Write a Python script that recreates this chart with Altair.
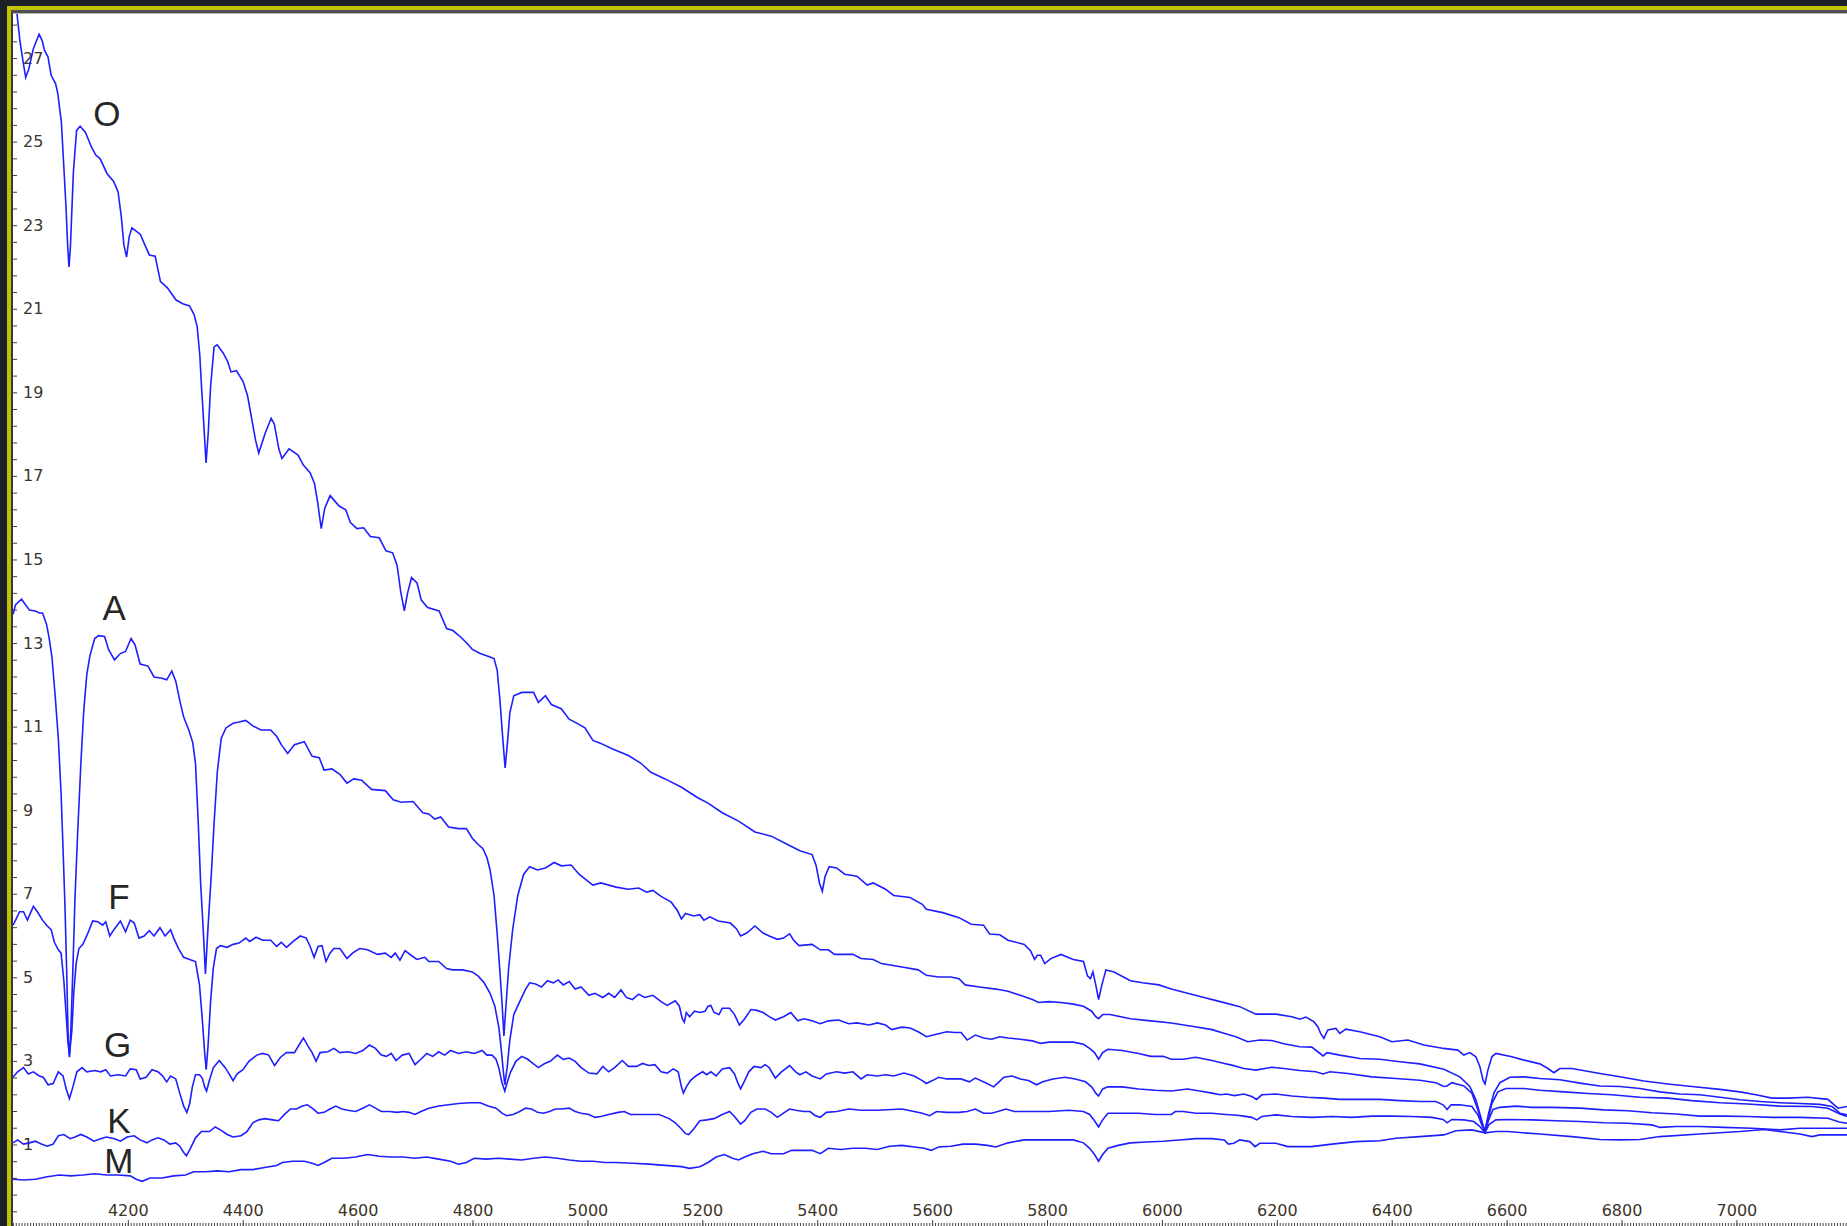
import altair as alt
import pandas as pd

# ---- spectra: wavelength (Angstrom) and relative flux for each spectral class ----
O_WL = [3999.3, 4006.0, 4011.3, 4016.7, 4021.4, 4026.8, 4034.6, 4044.7, 4050.1, 4054.0, 4060.2, 4065.7,
        4073.4, 4077.3, 4083.5, 4087.4, 4091.3, 4094.4, 4096.7, 4099.1, 4102.2, 4104.5, 4110.0, 4116.2,
        4125.5, 4135.6, 4143.4, 4151.1, 4162.8, 4174.5, 4182.2, 4187.7, 4192.3, 4197.0, 4201.6, 4206.3,
        4221.1, 4228.8, 4236.6, 4246.7, 4256.0, 4267.7, 4283.2, 4294.9, 4306.5, 4314.3, 4319.8, 4324.4,
        4327.5, 4331.4, 4335.3, 4339.2, 4343.1, 4349.3, 4354.7, 4364.8, 4372.6, 4378.8, 4388.2, 4399.8,
        4407.6, 4415.3, 4421.6, 4427.0, 4438.7, 4448.7, 4454.2, 4462.0, 4467.4, 4479.9, 4495.4, 4504.7,
        4516.4, 4524.1, 4529.5, 4535.8, 4542.0, 4551.3, 4566.9, 4578.5, 4586.3, 4597.9, 4609.6, 4621.3,
        4636.8, 4648.4, 4660.1, 4667.9, 4674.1, 4680.5, 4686.0, 4693.0, 4702.6, 4710.0, 4721.0, 4741.0,
        4754.0, 4765.0, 4779.0, 4791.9, 4798.8, 4812.5, 4829.7, 4836.6, 4842.1, 4846.9, 4851.8, 4855.9,
        4860.0, 4864.1, 4871.0, 4884.8, 4905.4, 4913.7, 4926.1, 4936.4, 4953.6, 4967.4, 4981.1, 4994.9,
        5008.7, 5022.4, 5042.0, 5070.4, 5091.7, 5109.5, 5134.4, 5162.8, 5191.2, 5209.0, 5233.8, 5262.3,
        5290.7, 5319.1, 5347.5, 5368.9, 5390.2, 5397.3, 5403.0, 5408.0, 5412.9, 5420.0, 5432.8, 5447.0,
        5468.3, 5486.1, 5496.7, 5518.0, 5532.2, 5560.7, 5582.0, 5589.1, 5617.5, 5646.0, 5667.2, 5688.6,
        5699.2, 5717.0, 5731.2, 5759.6, 5770.3, 5777.4, 5782.3, 5788.0, 5795.1, 5805.8, 5823.5, 5844.9,
        5862.6, 5869.7, 5874.7, 5879.0, 5884.0, 5888.9, 5894.6, 5901.7, 5915.9, 5944.3, 5965.6, 5994.0,
        6015.4, 6043.8, 6072.2, 6100.6, 6134.7, 6162.6, 6197.4, 6225.3, 6239.2, 6249.6, 6263.5, 6270.5,
        6275.4, 6281.0, 6287.9, 6301.9, 6308.8, 6319.3, 6343.6, 6378.4, 6399.3, 6427.2, 6455.1, 6489.9,
        6514.2, 6524.7, 6535.1, 6545.6, 6552.6, 6558.1, 6561.6, 6566.5, 6573.4, 6580.4, 6608.3, 6629.2,
        6657.0, 6671.0, 6681.4, 6691.8, 6712.7, 6761.5, 6796.3, 6838.1, 6879.9, 6921.6, 6970.4, 7005.2,
        7033.1, 7060.9, 7088.8, 7123.5, 7158.4, 7175.8, 7191.6]
O_FLUX = [28.8, 28.1, 27.43, 26.94, 26.55, 26.75, 27.23, 27.58, 27.43, 27.2, 27.04, 26.6,
          26.4, 26.16, 25.48, 24.5, 23.52, 22.54, 22.01, 22.45, 23.52, 24.3, 25.28, 25.38,
          25.23, 24.89, 24.69, 24.6, 24.25, 24.06, 23.81, 23.23, 22.54, 22.25, 22.74, 22.95,
          22.79, 22.54, 22.3, 22.27, 21.66, 21.52, 21.22, 21.13, 21.08, 20.88, 20.59, 19.91,
          19.13, 18.25, 17.32, 18.05, 19.13, 20.1, 20.15, 19.96, 19.76, 19.5, 19.53, 19.27,
          18.93, 18.34, 17.86, 17.56, 18.05, 18.39, 18.25, 17.66, 17.43, 17.66, 17.51, 17.27,
          17.09, 16.83, 16.39, 15.75, 16.24, 16.54, 16.29, 16.2, 15.9, 15.75, 15.77, 15.56,
          15.53, 15.22, 15.17, 14.87, 14.24, 13.78, 14.2, 14.58, 14.45, 14.04, 13.86, 13.78,
          13.36, 13.31, 13.15, 12.97, 12.86, 12.76, 12.68, 12.64, 12.36, 11.64, 10.73, 10.02,
          10.63, 11.34, 11.75, 11.83, 11.83, 11.59, 11.75, 11.54, 11.44, 11.19, 11.09, 10.98,
          10.68, 10.61, 10.48, 10.32, 10.14, 9.92, 9.76, 9.56, 9.31, 9.18, 8.95, 8.75,
          8.49, 8.39, 8.19, 8.04, 7.95, 7.68, 7.27, 7.07, 7.43, 7.66, 7.63, 7.48,
          7.43, 7.22, 7.27, 7.12, 6.97, 6.92, 6.76, 6.64, 6.56, 6.44, 6.28, 6.26,
          6.05, 6.03, 5.9, 5.8, 5.65, 5.44, 5.54, 5.54, 5.34, 5.46, 5.56, 5.44,
          5.39, 5.04, 4.98, 5.14, 4.83, 4.48, 4.83, 5.19, 5.14, 4.93, 4.88, 4.83,
          4.73, 4.63, 4.53, 4.43, 4.31, 4.13, 4.13, 4.07, 4.01, 4.06, 3.95, 3.83,
          3.67, 3.55, 3.75, 3.79, 3.67, 3.77, 3.71, 3.59, 3.47, 3.51, 3.39, 3.31,
          3.27, 3.15, 3.21, 3.11, 2.87, 2.55, 2.46, 2.79, 3.11, 3.19, 3.11, 3.03,
          2.94, 2.83, 2.73, 2.83, 2.83, 2.71, 2.63, 2.53, 2.46, 2.4, 2.33, 2.27,
          2.2, 2.12, 2.12, 2.14, 2.09, 1.88, 1.92]

A_WL = [3999.3, 4003.8, 4014.2, 4021.1, 4028.0, 4038.3, 4045.1, 4050.7, 4057.5, 4062.4, 4067.2, 4072.7,
        4078.2, 4083.0, 4086.4, 4089.9, 4093.3, 4095.4, 4097.5, 4100.2, 4103.6, 4107.1, 4111.9, 4117.4,
        4122.2, 4127.7, 4133.2, 4141.5, 4148.4, 4158.7, 4165.6, 4175.9, 4186.2, 4195.2, 4204.8, 4211.7,
        4220.6, 4234.4, 4244.7, 4258.5, 4266.8, 4275.7, 4282.6, 4289.5, 4296.4, 4305.3, 4312.2, 4317.0,
        4321.8, 4325.9, 4330.8, 4334.2, 4339.0, 4344.5, 4349.3, 4354.9, 4361.7, 4370.0, 4382.4, 4392.7,
        4404.4, 4416.8, 4430.6, 4447.8, 4458.1, 4466.3, 4477.4, 4489.1, 4506.3, 4520.0, 4532.4, 4540.7,
        4554.4, 4568.2, 4580.6, 4592.3, 4606.1, 4623.3, 4647.4, 4661.1, 4674.9, 4695.5, 4712.7, 4723.1,
        4733.4, 4743.8, 4757.5, 4774.7, 4788.4, 4798.8, 4809.1, 4817.3, 4824.2, 4829.7, 4836.6, 4842.1,
        4846.9, 4850.4, 4853.8, 4857.3, 4862.1, 4869.0, 4877.9, 4888.2, 4898.6, 4912.4, 4926.1, 4941.2,
        4953.6, 4970.8, 4984.5, 4994.9, 5008.7, 5022.4, 5049.1, 5070.4, 5088.2, 5102.4, 5113.1, 5127.3,
        5145.0, 5155.7, 5162.8, 5169.9, 5184.1, 5194.8, 5201.9, 5212.5, 5226.7, 5248.1, 5258.7, 5265.8,
        5276.5, 5290.7, 5304.9, 5315.5, 5329.8, 5340.4, 5351.1, 5358.2, 5367.4, 5390.2, 5404.4, 5418.6,
        5429.2, 5461.2, 5475.4, 5496.7, 5511.0, 5546.5, 5574.9, 5589.1, 5610.4, 5631.7, 5645.9, 5656.6,
        5681.4, 5709.9, 5731.2, 5752.5, 5773.8, 5784.5, 5802.2, 5823.5, 5844.9, 5862.6, 5876.8, 5884.0,
        5888.9, 5896.0, 5908.8, 5944.3, 5979.8, 6015.4, 6051.0, 6086.4, 6110.0, 6127.8, 6148.6, 6169.5,
        6190.4, 6211.3, 6239.2, 6260.1, 6270.5, 6279.6, 6286.5, 6308.8, 6343.6, 6378.4, 6413.3, 6448.1,
        6489.9, 6517.7, 6535.1, 6545.6, 6553.9, 6560.9, 6567.9, 6576.9, 6587.4, 6604.8, 6629.2, 6657.0,
        6691.8, 6726.6, 6761.5, 6796.3, 6831.1, 6865.9, 6900.7, 6935.5, 6970.4, 7005.2, 7040.0, 7074.8,
        7109.7, 7144.5, 7165.4, 7179.3, 7191.6]
A_FLUX = [13.7, 13.93, 14.06, 13.93, 13.8, 13.78, 13.73, 13.73, 13.47, 13.12, 12.66, 11.75,
          10.73, 9.41, 8.09, 6.66, 4.83, 3.51, 3.1, 3.82, 5.24, 6.87, 8.49, 10.12,
          11.34, 12.25, 12.71, 13.12, 13.19, 13.17, 12.86, 12.61, 12.76, 12.81, 13.12, 12.97,
          12.51, 12.46, 12.2, 12.17, 12.13, 12.34, 12.1, 11.64, 11.24, 10.93, 10.63, 10.12,
          8.7, 7.27, 6.05, 5.09, 6.26, 7.48, 8.7, 9.92, 10.73, 10.98, 11.09, 11.12,
          11.16, 11.03, 10.93, 10.93, 10.78, 10.58, 10.37, 10.58, 10.65, 10.3, 10.27, 9.97,
          10.0, 9.87, 9.66, 9.76, 9.73, 9.51, 9.48, 9.26, 9.2, 9.22, 8.95, 8.92,
          8.8, 8.85, 8.61, 8.57, 8.57, 8.34, 8.19, 8.09, 7.88, 7.58, 6.97, 6.05,
          5.14, 4.43, 3.61, 4.32, 5.24, 6.15, 6.97, 7.48, 7.66, 7.58, 7.63, 7.76,
          7.68, 7.7, 7.48, 7.37, 7.22, 7.27, 7.17, 7.12, 7.15, 7.05, 7.09, 6.95,
          6.81, 6.61, 6.41, 6.54, 6.48, 6.51, 6.38, 6.46, 6.36, 6.31, 6.17, 6.0,
          6.07, 6.24, 6.07, 6.0, 5.92, 5.95, 6.05, 5.9, 5.77, 5.8, 5.67, 5.67,
          5.56, 5.56, 5.46, 5.44, 5.34, 5.26, 5.19, 5.06, 5.02, 5.02, 4.98, 4.83,
          4.78, 4.73, 4.68, 4.58, 4.48, 4.41, 4.43, 4.41, 4.37, 4.32, 4.2, 4.07,
          4.02, 4.12, 4.12, 4.02, 3.97, 3.92, 3.84, 3.76, 3.66, 3.59, 3.47, 3.51,
          3.5, 3.42, 3.35, 3.34, 3.23, 3.13, 3.21, 3.15, 3.07, 3.05, 2.99, 2.94,
          2.81, 2.63, 2.4, 2.08, 1.68, 1.32, 1.76, 2.24, 2.49, 2.62, 2.63, 2.59,
          2.56, 2.48, 2.41, 2.4, 2.35, 2.27, 2.22, 2.2, 2.14, 2.08, 2.04, 2.01,
          1.99, 1.97, 1.92, 1.76, 1.72]

F_WL = [3999.3, 4003.8, 4010.7, 4017.6, 4024.4, 4030.0, 4034.8, 4041.7, 4050.7, 4058.9, 4065.8, 4071.3,
        4078.2, 4083.0, 4087.8, 4091.3, 4094.7, 4097.5, 4101.6, 4105.0, 4109.2, 4114.0, 4120.9, 4129.1,
        4138.1, 4147.0, 4155.3, 4160.8, 4167.7, 4175.9, 4186.2, 4195.2, 4203.4, 4210.3, 4218.6, 4227.5,
        4236.5, 4244.7, 4255.1, 4264.0, 4273.6, 4279.1, 4287.4, 4296.4, 4306.7, 4317.0, 4323.9, 4328.7,
        4332.9, 4335.6, 4339.0, 4343.2, 4348.0, 4353.5, 4360.4, 4372.1, 4382.4, 4392.7, 4404.4, 4411.3,
        4422.3, 4434.0, 4447.8, 4458.1, 4466.3, 4475.3, 4487.0, 4499.4, 4509.7, 4516.5, 4523.4, 4530.3,
        4537.2, 4544.1, 4551.0, 4557.9, 4568.2, 4580.6, 4590.2, 4602.6, 4616.3, 4633.6, 4647.4, 4657.7,
        4664.6, 4672.8, 4681.8, 4692.1, 4702.4, 4716.2, 4723.1, 4740.3, 4754.0, 4764.4, 4781.6, 4798.8,
        4809.1, 4819.4, 4829.7, 4838.0, 4844.9, 4849.0, 4852.5, 4855.3, 4859.4, 4864.1, 4871.0, 4881.3,
        4891.6, 4898.6, 4908.9, 4919.2, 4929.6, 4939.9, 4948.2, 4957.1, 4967.4, 4977.8, 4988.1, 5001.8,
        5012.2, 5025.9, 5036.2, 5046.5, 5057.6, 5066.9, 5077.5, 5088.2, 5098.9, 5113.1, 5127.3, 5137.9,
        5152.1, 5159.2, 5164.2, 5167.8, 5171.3, 5177.0, 5185.5, 5194.8, 5204.0, 5209.0, 5214.0, 5219.6,
        5228.2, 5233.8, 5246.6, 5255.2, 5263.7, 5273.0, 5283.6, 5294.2, 5304.9, 5315.5, 5326.2, 5340.4,
        5353.2, 5365.3, 5376.0, 5390.2, 5404.4, 5418.6, 5436.3, 5454.1, 5468.3, 5489.6, 5503.8, 5518.0,
        5528.7, 5546.5, 5560.7, 5574.9, 5589.1, 5610.4, 5624.6, 5638.8, 5649.5, 5660.2, 5674.4, 5688.6,
        5702.8, 5717.0, 5731.2, 5752.5, 5773.8, 5788.0, 5802.2, 5823.5, 5844.9, 5862.6, 5873.3, 5881.8,
        5888.9, 5896.0, 5905.2, 5930.1, 5958.5, 5979.8, 6001.2, 6015.4, 6036.7, 6058.0, 6086.4, 6107.7,
        6120.8, 6141.7, 6162.6, 6190.4, 6211.3, 6239.2, 6267.0, 6279.6, 6291.4, 6322.7, 6364.5, 6406.3,
        6448.1, 6476.0, 6489.9, 6495.5, 6503.8, 6524.7, 6538.6, 6549.1, 6556.0, 6561.6, 6566.5, 6573.4,
        6583.9, 6597.8, 6629.2, 6657.0, 6698.8, 6740.6, 6782.4, 6831.1, 6879.9, 6921.6, 6970.4, 7019.1,
        7074.8, 7130.5, 7158.4, 7179.3, 7191.6]
F_FLUX = [6.26, 6.38, 6.58, 6.58, 6.38, 6.56, 6.71, 6.58, 6.38, 6.24, 6.15, 5.85,
          5.67, 5.59, 4.93, 4.22, 3.51, 3.15, 3.71, 4.63, 5.34, 5.7, 5.8, 6.05,
          6.36, 6.34, 6.26, 6.34, 6.0, 6.17, 6.36, 6.1, 6.38, 6.31, 5.95, 6.0,
          6.13, 6.0, 6.2, 6.0, 6.15, 5.95, 5.7, 5.49, 5.44, 5.39, 4.83, 4.02,
          3.21, 2.8, 3.41, 4.43, 5.24, 5.7, 5.77, 5.73, 5.8, 5.83, 5.95, 5.87,
          5.97, 5.9, 5.9, 5.75, 5.85, 5.73, 5.87, 6.0, 5.95, 5.75, 5.49, 5.75,
          5.77, 5.39, 5.59, 5.7, 5.7, 5.46, 5.59, 5.7, 5.67, 5.56, 5.59, 5.49,
          5.59, 5.42, 5.65, 5.54, 5.44, 5.49, 5.39, 5.39, 5.22, 5.19, 5.19, 5.14,
          5.04, 4.88, 4.63, 4.32, 3.82, 3.31, 2.8, 2.44, 2.85, 3.51, 4.12, 4.43,
          4.73, 4.88, 4.85, 4.78, 4.93, 4.88, 4.95, 4.83, 4.91, 4.73, 4.78, 4.58,
          4.63, 4.53, 4.63, 4.53, 4.71, 4.53, 4.48, 4.61, 4.53, 4.58, 4.43, 4.34,
          4.45, 4.32, 4.02, 3.94, 4.17, 4.07, 4.2, 4.17, 4.2, 4.32, 4.34, 4.17,
          4.12, 4.27, 4.27, 4.12, 3.87, 4.02, 4.24, 4.22, 4.17, 4.07, 3.99, 4.07,
          4.17, 3.97, 4.02, 3.97, 3.9, 3.97, 3.99, 3.9, 3.92, 3.87, 3.92, 3.87,
          3.76, 3.82, 3.8, 3.71, 3.59, 3.66, 3.71, 3.69, 3.69, 3.51, 3.63, 3.56,
          3.53, 3.59, 3.56, 3.53, 3.49, 3.43, 3.46, 3.46, 3.46, 3.41, 3.31, 3.21,
          3.05, 3.21, 3.29, 3.26, 3.19, 3.12, 3.12, 3.05, 3.05, 3.1, 3.02, 2.95,
          2.91, 2.83, 2.79, 2.86, 2.83, 2.78, 2.75, 2.7, 2.75, 2.71, 2.63, 2.59,
          2.55, 2.49, 2.4, 2.41, 2.49, 2.41, 2.24, 1.84, 1.52, 1.32, 1.6, 1.99,
          2.27, 2.35, 2.35, 2.31, 2.27, 2.23, 2.2, 2.14, 2.12, 2.06, 2.01, 1.98,
          1.93, 1.92, 1.88, 1.74, 1.68]

G_WL = [3999.3, 4007.3, 4017.6, 4025.9, 4034.8, 4045.1, 4052.0, 4060.3, 4069.2, 4078.2, 4086.4, 4091.9,
        4097.5, 4103.6, 4110.5, 4119.5, 4127.7, 4141.5, 4151.8, 4160.8, 4169.0, 4182.8, 4195.2, 4203.4,
        4213.8, 4220.6, 4231.0, 4241.3, 4251.6, 4259.9, 4266.8, 4273.6, 4282.6, 4289.5, 4296.4, 4301.9,
        4306.7, 4311.5, 4317.0, 4323.9, 4328.7, 4332.9, 4336.3, 4341.1, 4348.0, 4358.3, 4368.6, 4375.5,
        4382.4, 4389.3, 4399.6, 4409.9, 4423.7, 4434.0, 4444.3, 4454.6, 4465.0, 4475.3, 4489.1, 4498.0,
        4504.8, 4513.1, 4520.0, 4526.9, 4533.7, 4547.5, 4557.9, 4568.2, 4582.0, 4595.7, 4608.1, 4619.8,
        4630.1, 4640.4, 4649.4, 4657.7, 4665.9, 4676.9, 4688.6, 4699.0, 4709.3, 4719.6, 4729.9, 4740.3,
        4750.6, 4760.9, 4774.7, 4788.4, 4802.2, 4816.0, 4824.2, 4833.2, 4840.0, 4844.9, 4850.4, 4855.3,
        4859.4, 4865.6, 4874.6, 4884.9, 4895.2, 4904.1, 4913.8, 4924.8, 4934.5, 4946.8, 4957.1, 4967.4,
        4977.8, 4988.1, 5001.8, 5015.6, 5025.9, 5036.2, 5046.5, 5059.8, 5070.4, 5084.6, 5095.3, 5106.0,
        5116.6, 5127.3, 5138.0, 5148.6, 5157.1, 5162.8, 5166.3, 5171.3, 5178.4, 5187.7, 5199.7, 5206.9,
        5214.0, 5223.2, 5233.8, 5246.6, 5255.2, 5260.8, 5265.8, 5273.0, 5280.0, 5289.3, 5301.3, 5308.5,
        5315.5, 5326.2, 5336.9, 5351.1, 5361.7, 5368.8, 5379.5, 5390.2, 5404.4, 5415.0, 5432.8, 5447.0,
        5461.2, 5475.4, 5486.1, 5503.8, 5518.0, 5532.2, 5550.0, 5567.8, 5582.0, 5589.1, 5599.7, 5610.4,
        5624.6, 5638.8, 5649.5, 5663.7, 5674.4, 5692.1, 5706.3, 5715.6, 5724.1, 5738.3, 5752.5, 5766.7,
        5781.0, 5791.6, 5809.3, 5830.7, 5848.4, 5866.2, 5876.8, 5884.0, 5888.9, 5896.0, 5905.2, 5930.1,
        5958.5, 5987.0, 6015.4, 6043.8, 6065.1, 6086.4, 6100.6, 6111.3, 6125.5, 6141.7, 6155.6, 6164.0,
        6173.0, 6197.4, 6225.3, 6253.1, 6281.0, 6308.8, 6343.6, 6378.4, 6413.3, 6448.1, 6476.0, 6488.5,
        6495.5, 6502.4, 6517.7, 6538.6, 6549.1, 6556.0, 6561.6, 6567.9, 6575.5, 6587.4, 6615.2, 6643.1,
        6677.9, 6726.6, 6768.4, 6810.2, 6852.0, 6893.8, 6935.5, 6977.3, 7019.1, 7060.9, 7109.7, 7158.4,
        7178.0, 7191.6]
G_FLUX = [2.62, 2.75, 2.85, 2.7, 2.75, 2.65, 2.62, 2.44, 2.47, 2.75, 2.65, 2.34,
          2.11, 2.39, 2.75, 2.85, 2.75, 2.78, 2.75, 2.8, 2.65, 2.68, 2.65, 2.82,
          2.8, 2.58, 2.62, 2.8, 2.75, 2.65, 2.51, 2.65, 2.58, 2.24, 1.93, 1.78,
          1.98, 2.39, 2.68, 2.68, 2.6, 2.39, 2.29, 2.54, 2.85, 3.02, 2.85, 2.7,
          2.54, 2.7, 2.8, 3.0, 3.15, 3.19, 3.15, 2.9, 3.1, 3.21, 3.21, 3.41,
          3.56, 3.36, 3.21, 3.0, 3.21, 3.23, 3.31, 3.21, 3.23, 3.19, 3.26, 3.39,
          3.31, 3.15, 3.12, 3.19, 3.02, 3.15, 3.19, 2.92, 3.05, 3.19, 3.12, 3.23,
          3.15, 3.26, 3.19, 3.23, 3.19, 3.26, 3.15, 3.15, 3.05, 2.85, 2.49, 2.29,
          2.49, 2.75, 3.0, 3.12, 3.05, 2.95, 2.85, 2.95, 3.0, 3.15, 3.05, 3.08,
          3.0, 2.85, 2.72, 2.7, 2.88, 2.75, 2.85, 3.02, 2.88, 2.88, 2.95, 2.9,
          2.92, 2.75, 2.72, 2.82, 2.75, 2.39, 2.24, 2.39, 2.54, 2.65, 2.75, 2.68,
          2.75, 2.65, 2.82, 2.85, 2.7, 2.49, 2.34, 2.54, 2.75, 2.88, 2.85, 2.92,
          2.85, 2.6, 2.75, 2.9, 2.75, 2.68, 2.75, 2.65, 2.58, 2.7, 2.75, 2.72,
          2.75, 2.58, 2.68, 2.65, 2.68, 2.65, 2.72, 2.65, 2.54, 2.47, 2.54, 2.62,
          2.58, 2.58, 2.58, 2.51, 2.6, 2.49, 2.39, 2.51, 2.62, 2.65, 2.58, 2.54,
          2.44, 2.51, 2.58, 2.62, 2.58, 2.51, 2.39, 2.24, 2.17, 2.34, 2.39, 2.39,
          2.34, 2.31, 2.29, 2.34, 2.29, 2.24, 2.2, 2.22, 2.18, 2.22, 2.16, 2.09,
          2.2, 2.22, 2.17, 2.14, 2.12, 2.09, 2.09, 2.09, 2.06, 2.04, 2.04, 1.96,
          1.85, 1.96, 1.96, 1.92, 1.72, 1.48, 1.32, 1.6, 1.85, 1.9, 1.93, 1.9,
          1.9, 1.88, 1.84, 1.82, 1.77, 1.74, 1.69, 1.69, 1.68, 1.66, 1.66, 1.64,
          1.55, 1.52]

K_WL = [3999.3, 4007.3, 4017.6, 4028.0, 4038.3, 4048.6, 4058.9, 4069.2, 4078.2, 4087.8, 4098.8, 4107.1,
        4117.4, 4127.7, 4140.1, 4151.8, 4162.1, 4175.9, 4186.2, 4197.9, 4210.3, 4220.6, 4232.3, 4241.3,
        4251.6, 4262.0, 4272.3, 4282.6, 4289.5, 4296.4, 4301.2, 4308.1, 4317.0, 4327.3, 4341.1, 4351.4,
        4361.7, 4372.1, 4382.4, 4396.1, 4406.5, 4416.8, 4427.1, 4437.4, 4451.2, 4461.5, 4471.9, 4482.2,
        4492.5, 4502.8, 4511.7, 4520.0, 4530.3, 4540.7, 4551.0, 4561.3, 4571.6, 4582.0, 4595.7, 4608.1,
        4619.8, 4630.1, 4640.4, 4654.2, 4668.0, 4678.3, 4688.6, 4699.0, 4709.3, 4723.1, 4740.3, 4757.5,
        4774.7, 4795.3, 4812.5, 4826.3, 4840.0, 4850.4, 4858.7, 4869.7, 4881.3, 4891.6, 4902.0, 4912.3,
        4922.6, 4933.0, 4943.3, 4953.6, 4967.4, 4977.8, 4988.1, 5001.8, 5012.2, 5022.4, 5036.2, 5052.7,
        5063.3, 5074.0, 5091.7, 5123.7, 5141.5, 5152.1, 5162.8, 5169.9, 5175.6, 5184.1, 5194.8, 5206.9,
        5219.6, 5233.8, 5246.6, 5255.2, 5265.8, 5273.0, 5283.6, 5294.2, 5308.5, 5319.1, 5329.8, 5340.4,
        5351.1, 5361.7, 5376.0, 5386.6, 5395.8, 5404.4, 5415.0, 5432.8, 5454.1, 5475.4, 5503.8, 5546.5,
        5567.8, 5582.0, 5594.8, 5606.8, 5624.6, 5645.9, 5660.2, 5674.4, 5688.6, 5702.8, 5713.4, 5727.6,
        5741.8, 5766.7, 5802.2, 5837.8, 5862.6, 5873.3, 5881.8, 5888.9, 5896.0, 5905.2, 5930.1, 5958.5,
        5987.0, 6015.4, 6022.5, 6036.7, 6058.0, 6086.4, 6110.0, 6130.0, 6141.7, 6155.6, 6164.0, 6173.0,
        6197.4, 6225.3, 6260.1, 6294.9, 6329.7, 6364.5, 6399.3, 6434.2, 6469.0, 6488.5, 6495.5, 6503.8,
        6524.7, 6542.1, 6552.6, 6561.6, 6567.9, 6580.4, 6601.3, 6643.1, 6684.8, 6726.6, 6768.4, 6810.2,
        6852.0, 6866.0, 6893.8, 6935.5, 6977.3, 7026.1, 7074.8, 7109.7, 7144.5, 7191.6]
K_FLUX = [1.05, 1.12, 1.02, 1.05, 1.09, 1.02, 0.97, 1.02, 1.22, 1.25, 1.15, 1.19,
          1.25, 1.19, 1.09, 1.15, 1.19, 1.15, 1.09, 1.19, 1.22, 1.12, 1.05, 1.12,
          1.17, 1.12, 1.02, 1.05, 0.97, 0.82, 0.74, 0.92, 1.17, 1.32, 1.32, 1.43,
          1.35, 1.25, 1.19, 1.22, 1.32, 1.53, 1.6, 1.63, 1.6, 1.58, 1.73, 1.86,
          1.86, 1.93, 1.96, 1.88, 1.76, 1.78, 1.86, 1.93, 1.86, 1.83, 1.8, 1.88,
          1.96, 1.88, 1.8, 1.8, 1.78, 1.8, 1.78, 1.73, 1.8, 1.88, 1.93, 1.96,
          1.99, 2.01, 2.01, 1.93, 1.88, 1.76, 1.7, 1.73, 1.8, 1.88, 1.86, 1.78,
          1.76, 1.8, 1.86, 1.86, 1.88, 1.8, 1.76, 1.73, 1.66, 1.68, 1.73, 1.78,
          1.8, 1.73, 1.73, 1.73, 1.63, 1.53, 1.38, 1.27, 1.25, 1.38, 1.58, 1.6,
          1.63, 1.73, 1.8, 1.68, 1.5, 1.58, 1.78, 1.86, 1.86, 1.78, 1.66, 1.76,
          1.86, 1.83, 1.8, 1.8, 1.7, 1.66, 1.78, 1.8, 1.86, 1.83, 1.83, 1.86,
          1.8, 1.76, 1.7, 1.8, 1.78, 1.78, 1.8, 1.86, 1.76, 1.76, 1.8, 1.86,
          1.8, 1.8, 1.8, 1.83, 1.8, 1.73, 1.58, 1.43, 1.6, 1.76, 1.76, 1.76,
          1.73, 1.73, 1.8, 1.8, 1.76, 1.76, 1.73, 1.71, 1.69, 1.66, 1.6, 1.68,
          1.72, 1.68, 1.66, 1.68, 1.66, 1.69, 1.69, 1.68, 1.66, 1.61, 1.53, 1.61,
          1.6, 1.56, 1.44, 1.29, 1.48, 1.6, 1.61, 1.6, 1.58, 1.56, 1.53, 1.52,
          1.48, 1.42, 1.44, 1.44, 1.42, 1.4, 1.36, 1.4, 1.4, 1.4]

M_WL = [3999.3, 4017.6, 4038.3, 4058.9, 4079.6, 4100.2, 4120.9, 4141.5, 4162.1, 4182.8, 4203.4, 4213.8,
        4224.1, 4237.9, 4258.5, 4279.1, 4299.8, 4313.6, 4334.2, 4354.9, 4375.5, 4396.1, 4416.8, 4437.4,
        4458.1, 4468.4, 4485.6, 4506.3, 4520.0, 4530.3, 4540.7, 4554.4, 4575.1, 4595.7, 4616.4, 4637.0,
        4657.7, 4678.3, 4699.0, 4719.6, 4740.3, 4760.9, 4774.7, 4788.4, 4802.2, 4822.9, 4843.5, 4864.1,
        4884.8, 4905.4, 4926.1, 4946.7, 4967.4, 4988.0, 5008.7, 5029.3, 5049.1, 5077.5, 5106.0, 5134.4,
        5162.8, 5177.0, 5194.8, 5209.0, 5223.2, 5237.4, 5251.6, 5262.3, 5273.0, 5287.1, 5304.9, 5319.1,
        5340.4, 5354.6, 5376.0, 5390.2, 5404.4, 5418.6, 5439.9, 5461.2, 5482.5, 5503.8, 5525.1, 5546.5,
        5567.8, 5585.5, 5597.6, 5610.4, 5631.7, 5653.0, 5674.4, 5695.7, 5709.9, 5731.2, 5759.6, 5788.0,
        5816.4, 5844.9, 5862.6, 5873.3, 5881.8, 5888.9, 5896.0, 5905.2, 5923.0, 5944.3, 5972.7, 6001.2,
        6029.6, 6058.0, 6086.4, 6107.7, 6114.8, 6124.3, 6134.7, 6152.1, 6161.2, 6169.5, 6197.4, 6218.3,
        6260.1, 6294.9, 6336.7, 6378.4, 6406.3, 6448.1, 6489.9, 6510.8, 6538.6, 6561.6, 6580.4, 6601.3,
        6657.0, 6712.7, 6761.5, 6796.3, 6831.1, 6866.0, 6935.5, 7005.2, 7047.0, 7074.8, 7109.7, 7130.5,
        7144.5, 7191.6]
M_FLUX = [0.18, 0.16, 0.18, 0.24, 0.28, 0.26, 0.28, 0.31, 0.28, 0.28, 0.26, 0.18,
          0.13, 0.21, 0.21, 0.26, 0.28, 0.36, 0.36, 0.38, 0.36, 0.41, 0.41, 0.46,
          0.51, 0.58, 0.61, 0.61, 0.56, 0.51, 0.58, 0.68, 0.68, 0.71, 0.77, 0.73,
          0.71, 0.71, 0.68, 0.71, 0.66, 0.61, 0.54, 0.58, 0.68, 0.66, 0.68, 0.66,
          0.64, 0.68, 0.71, 0.68, 0.64, 0.61, 0.61, 0.58, 0.58, 0.56, 0.54, 0.51,
          0.48, 0.44, 0.48, 0.58, 0.71, 0.77, 0.68, 0.64, 0.71, 0.79, 0.85, 0.79,
          0.79, 0.87, 0.87, 0.87, 0.79, 0.92, 0.89, 0.92, 0.92, 0.89, 0.97, 0.99,
          0.95, 0.92, 0.87, 0.95, 0.97, 1.02, 1.02, 0.99, 0.95, 1.05, 1.12, 1.12,
          1.12, 1.12, 1.05, 0.92, 0.77, 0.61, 0.77, 0.92, 0.99, 1.05, 1.07, 1.09,
          1.12, 1.15, 1.15, 1.12, 1.02, 1.04, 1.12, 1.08, 0.96, 1.04, 1.04, 0.96,
          0.96, 1.02, 1.08, 1.1, 1.16, 1.2, 1.24, 1.34, 1.36, 1.29, 1.32, 1.32,
          1.26, 1.2, 1.13, 1.12, 1.13, 1.2, 1.26, 1.32, 1.37, 1.32, 1.26, 1.2,
          1.24, 1.24]

SERIES = [("O", O_WL, O_FLUX), ("A", A_WL, A_FLUX), ("F", F_WL, F_FLUX),
          ("G", G_WL, G_FLUX), ("K", K_WL, K_FLUX), ("M", M_WL, M_FLUX)]

# class letters written next to each spectrum
LABELS = ["O", "A", "F", "G", "K", "M"]
LABEL_WL = [4162.7, 4175.3, 4183.5, 4181.4, 4183.5, 4183.5]
LABEL_FLUX = [25.64, 13.83, 6.92, 3.37, 1.56, 0.58]

# axis ticks: wavelength labels every 200 A, minor ticks every 5 A; flux ticks every 0.4
X_MAJOR = list(range(4200, 7001, 200))
X_MINOR = list(range(4000, 7195, 5))
Y_TICKS = [round(-0.6 + 0.4 * i, 1) for i in range(72)]
Y_LABELS = list(range(1, 28, 2))

rows = []
for name, wl, fx in SERIES:
    for i, (w, f) in enumerate(zip(wl, fx)):
        rows.append({"star": name, "wl": w, "flux": f, "idx": i})
spectra = pd.DataFrame(rows)
labels = pd.DataFrame({"star": LABELS, "wl": LABEL_WL, "flux": LABEL_FLUX})
x_major = pd.DataFrame({"wl": X_MAJOR, "txt": [str(v) for v in X_MAJOR]})
x_minor = pd.DataFrame({"wl": X_MINOR})
y_ticks = pd.DataFrame({"flux": Y_TICKS})
y_labels = pd.DataFrame({"flux": Y_LABELS, "txt": [str(v) for v in Y_LABELS]})

# ---- layout ----
W, H = 1834, 1213
X_DOMAIN = [3999.3, 7191.6]
Y_DOMAIN = [-0.94, 28.09]
TICK_FONT = "DejaVu Sans"
TICK_TEXT = "#3d342a"
TICK_LINE = "#444444"
LINE_BLUE = "#1e1eff"

xscale = alt.Scale(domain=X_DOMAIN, nice=False, zero=False)
yscale = alt.Scale(domain=Y_DOMAIN, nice=False, zero=False)


def xq(field="wl"):
    return alt.X(f"{field}:Q", scale=xscale, axis=None)


def yq(field="flux"):
    return alt.Y(f"{field}:Q", scale=yscale, axis=None)


lines = alt.Chart(spectra).mark_line(color=LINE_BLUE, strokeWidth=1.6, clip=True).encode(
    x=xq(), y=yq(), detail="star:N", order="idx:Q",
)

text = alt.Chart(labels).mark_text(
    font="Liberation Sans", fontSize=35, color="#262626", align="center", baseline="middle"
).encode(x=xq(), y=yq(), text="star:N")

# wavelength scale along the bottom edge, ticks pointing up into the plot
x_minor_ticks = alt.Chart(x_minor).mark_rule(color=TICK_LINE, strokeWidth=1).encode(
    x=xq(), y=alt.value(H - 3), y2=alt.value(H))
x_major_ticks = alt.Chart(x_major).mark_rule(color=TICK_LINE, strokeWidth=1).encode(
    x=xq(), y=alt.value(H - 6), y2=alt.value(H))
x_tick_text = alt.Chart(x_major).mark_text(
    font=TICK_FONT, fontSize=16, color=TICK_TEXT, align="center", baseline="alphabetic"
).encode(x=xq(), y=alt.value(H - 10), text="txt:N")

# flux scale along the left edge, ticks and labels inside the plot
y_tick_marks = alt.Chart(y_ticks).mark_rule(color=TICK_LINE, strokeWidth=1).encode(
    y=yq(), x=alt.value(0), x2=alt.value(4))
y_tick_text = alt.Chart(y_labels).mark_text(
    font=TICK_FONT, fontSize=16, color=TICK_TEXT, align="left", baseline="middle"
).encode(y=yq(), x=alt.value(10), text="txt:N")

# window frame: yellow band and dark edge along the top and left of the plot
one = pd.DataFrame({"k": [0]})
frame_left = alt.Chart(one).mark_rule(color="#c2c200", strokeWidth=4).encode(
    x=alt.value(-4), y=alt.value(-7), y2=alt.value(H))
frame_top = alt.Chart(one).mark_rule(color="#c2c200", strokeWidth=4).encode(
    y=alt.value(-5), x=alt.value(-6), x2=alt.value(W))
edge_left = alt.Chart(one).mark_rule(color="#3a3a3a", strokeWidth=2).encode(
    x=alt.value(-1), y=alt.value(-3), y2=alt.value(H))
edge_top = alt.Chart(one).mark_rule(color="#4e4e4e", strokeWidth=3).encode(
    y=alt.value(-1.5), x=alt.value(-2), x2=alt.value(W))
edge_top_light = alt.Chart(one).mark_rule(color="#b4b4b4", strokeWidth=1).encode(
    y=alt.value(0.5), x=alt.value(0), x2=alt.value(W))

chart = alt.layer(
    x_minor_ticks, x_major_ticks, y_tick_marks, x_tick_text, y_tick_text,
    lines, text, frame_left, frame_top, edge_left, edge_top, edge_top_light
).properties(
    width=W, height=H,
    padding={"left": 13, "top": 13, "right": 0, "bottom": 0},
    autosize=alt.AutoSizeParams(type="none"),
    background="#1b1f26",
).configure_view(fill="white", strokeWidth=0)

chart.save("out.html", embed_options={"renderer": "svg", "actions": False})
